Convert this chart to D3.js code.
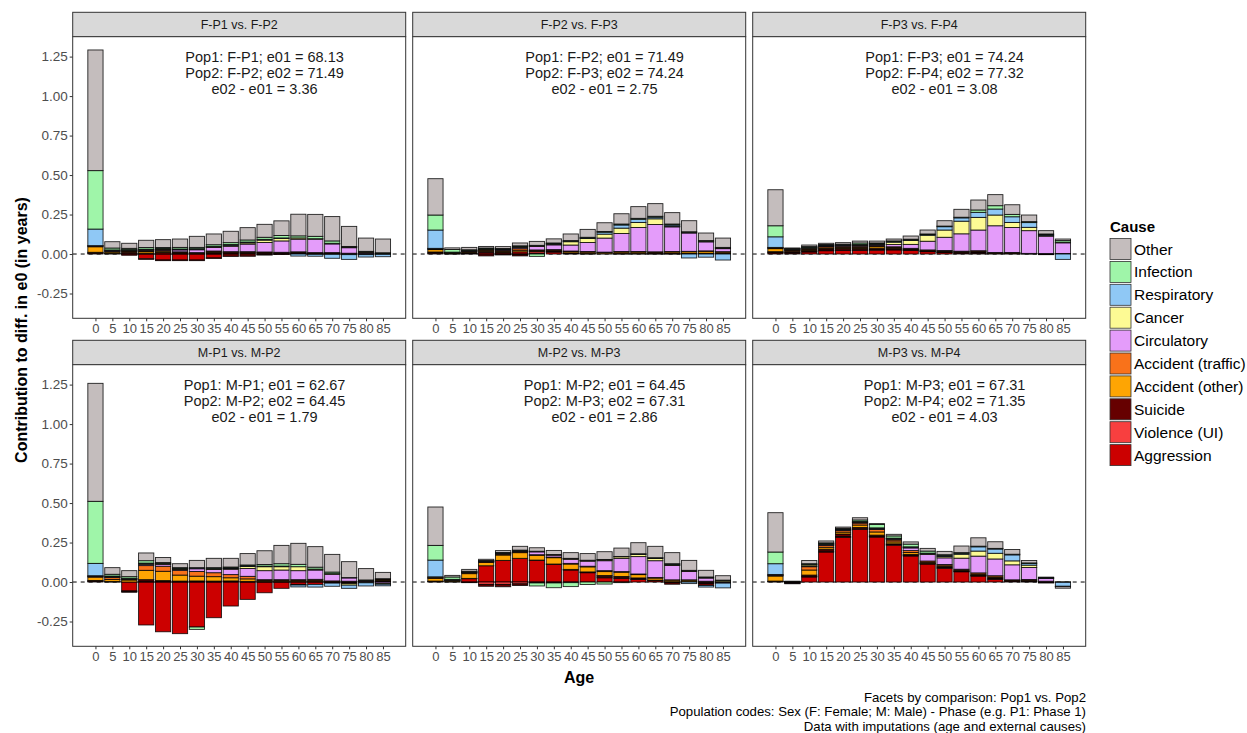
<!DOCTYPE html>
<html>
<head>
<meta charset="utf-8">
<script src="https://cdn.jsdelivr.net/npm/d3@7"></script>
<style>
  body { margin: 0; background: #fff; }
  svg { font-family: "Liberation Sans", Arial, sans-serif; }
</style>
</head>
<body>
<svg id="chart" width="1247" height="733"></svg>
<script>
// age groups on the x axis
const ages = [0, 5, 10, 15, 20, 25, 30, 35, 40, 45, 50, 55, 60, 65, 70, 75, 80, 85];
const causes = ["Other", "Infection", "Respiratory", "Cancer", "Circulatory",
  "Accident (traffic)", "Accident (other)", "Suicide", "Violence (UI)", "Aggression"];
const causeColors = ["#c4bdbd", "#9ff5a9", "#8fc8f5", "#fdfa94", "#e49cfa",
  "#f9721a", "#fea503", "#660000", "#f83f3f", "#cc0000"];
const comparisons = ["F-P1 vs. F-P2", "F-P2 vs. F-P3", "F-P3 vs. F-P4",
  "M-P1 vs. M-P2", "M-P2 vs. M-P3", "M-P3 vs. M-P4"];
const panelNotes = [
  ["Pop1: F-P1; e01 = 68.13", "Pop2: F-P2; e02 = 71.49", "e02 - e01 = 3.36"],
  ["Pop1: F-P2; e01 = 71.49", "Pop2: F-P3; e02 = 74.24", "e02 - e01 = 2.75"],
  ["Pop1: F-P3; e01 = 74.24", "Pop2: F-P4; e02 = 77.32", "e02 - e01 = 3.08"],
  ["Pop1: M-P1; e01 = 62.67", "Pop2: M-P2; e02 = 64.45", "e02 - e01 = 1.79"],
  ["Pop1: M-P2; e01 = 64.45", "Pop2: M-P3; e02 = 67.31", "e02 - e01 = 2.86"],
  ["Pop1: M-P3; e01 = 67.31", "Pop2: M-P4; e02 = 71.35", "e02 - e01 = 4.03"]
];
const captionLines = ["Facets by comparison: Pop1 vs. Pop2",
  "Population codes: Sex (F: Female; M: Male) - Phase (e.g. P1: Phase 1)",
  "Data with imputations (age and external causes)"];
const yTicks = [-0.25, 0, 0.25, 0.5, 0.75, 1, 1.25];

// contribution to difference in e0, one row per age group,
// columns in the order of `causes`
const fP1P2 = [
  [0.764, 0.37, 0.105, 0.001, 0.002, 0.004, 0.035, 0.004, 0.002, 0.005],
  [0.040, 0.012, 0.003, 0.003, 0.003, 0.004, 0.008, 0.002, 0.001, 0.002],
  [0.032, 0.008, 0.003, 0.002, 0.003, 0.004, 0.004, 0.010, 0.002, -0.008],
  [0.046, 0.010, 0.003, 0.003, 0.005, 0.005, 0.010, 0.005, -0.004, -0.030],
  [0.050, 0.006, 0.003, 0.003, 0.005, 0.006, 0.008, 0.010, -0.004, -0.038],
  [0.053, 0.010, 0.003, 0.003, 0.012, 0.004, 0.004, 0.006, -0.004, -0.038],
  [0.070, 0.008, 0.003, 0.004, 0.018, 0.003, 0.003, 0.003, -0.004, -0.038],
  [0.068, 0.010, 0.004, 0.004, 0.022, 0.006, 0.006, 0.007, -0.003, -0.025],
  [0.072, 0.012, 0.005, 0.006, 0.034, 0.004, 0.004, 0.007, -0.002, -0.013],
  [0.078, 0.013, 0.005, 0.008, 0.048, 0.005, 0.004, 0.006, -0.002, -0.012],
  [0.082, 0.013, 0.005, 0.015, 0.060, 0.003, 0.004, 0.006, -0.001, -0.005],
  [0.093, 0.015, 0.004, 0.015, 0.072, 0.002, 0.003, 0.005, 0.001, -0.003],
  [0.137, 0.013, -0.013, 0.008, 0.080, 0.002, 0.003, 0.006, 0.002, 0.001],
  [0.139, 0.015, -0.012, 0.003, 0.085, 0.002, 0.002, 0.004, 0.001, -0.002],
  [0.154, 0.015, -0.025, 0.004, 0.055, 0.002, 0.002, 0.004, 0.001, -0.002],
  [0.127, 0.004, -0.030, 0.004, 0.035, 0.001, 0.002, 0.002, -0.001, -0.003],
  [0.084, 0.003, -0.015, 0.004, 0.006, 0.002, 0.002, -0.002, 0, -0.002],
  [0.087, 0.002, -0.015, 0.002, 0.002, 0.001, 0.001, -0.001, 0, -0.001]
];
const fP2P3 = [
  [0.230, 0.095, 0.116, 0.002, 0.002, 0.004, 0.015, 0.006, 0.002, 0.005],
  [0.010, 0.017, 0.002, 0.001, 0.001, 0.002, 0.002, 0.002, 0.001, 0.001],
  [0.015, 0.004, 0.002, 0.002, 0.002, 0.004, 0.006, 0.004, 0.001, 0.002],
  [0.010, 0.003, 0.003, 0.002, 0.002, 0.006, 0.006, -0.012, 0.006, 0.010],
  [0.012, 0.003, 0.003, 0.002, 0.003, 0.006, 0.006, -0.006, 0.004, 0.008],
  [0.018, 0.004, 0.003, 0.003, 0.008, 0.010, 0.010, -0.008, -0.004, 0.014],
  [0.025, -0.015, 0.003, 0.004, 0.022, 0.004, 0.004, 0.003, 0.010, 0.005],
  [0.026, 0.003, 0.004, 0.005, 0.030, 0.004, 0.004, 0.004, 0.004, 0.012],
  [0.042, 0.004, 0.003, 0.021, 0.038, 0.004, 0.008, 0.003, 0.002, 0.002],
  [0.050, 0.004, 0.004, 0.025, 0.057, 0.004, 0.008, 0.002, 0.001, 0.001],
  [0.055, 0.005, 0.012, 0.025, 0.089, 0.003, 0.007, 0.002, 0, 0],
  [0.065, 0.006, 0.020, 0.034, 0.114, 0.003, 0.008, 0.003, 0.001, 0.001],
  [0.074, 0.006, 0.020, 0.032, 0.152, 0.003, 0.008, 0.004, 0.001, 0],
  [0.080, 0.006, 0.010, 0.036, 0.173, 0.002, 0.006, 0.004, 0.001, 0.001],
  [0.072, 0.006, 0.008, 0.004, 0.156, 0.002, 0.008, 0.004, 0.001, 0.001],
  [0.070, 0.004, -0.025, 0.004, 0.116, 0.002, 0.010, 0.003, 0.001, 0.001],
  [0.048, 0.004, -0.020, 0.004, 0.057, 0.003, 0.012, 0.003, 0.001, 0.001],
  [0.059, 0.004, -0.038, 0.004, 0.019, 0.003, 0.008, 0.002, 0.001, 0.001]
];
const fP3P4 = [
  [0.228, 0.070, 0.067, 0.002, 0.002, 0.004, 0.019, 0.006, 0.002, 0.007],
  [0.002, 0.002, 0.003, 0.002, 0.003, 0.004, 0.004, 0.008, 0.004, 0.006],
  [0.010, 0.004, 0.003, 0.003, 0.004, 0.006, 0.005, 0.006, 0.003, 0.013],
  [0.008, 0.003, 0.003, 0.003, 0.004, 0.008, 0.006, 0.008, 0.004, 0.021],
  [0.010, 0.003, 0.003, 0.003, 0.004, 0.008, 0.006, 0.009, 0.004, 0.022],
  [0.012, 0.010, 0.003, 0.003, 0.005, 0.008, 0.006, 0.008, 0.004, 0.023],
  [0.012, 0.004, 0.003, 0.004, 0.006, 0.006, 0.010, 0.008, 0.005, 0.024],
  [0.012, 0.004, 0.004, 0.015, 0.014, 0.004, 0.006, 0.005, 0.005, 0.026],
  [0.020, 0.004, 0.004, 0.025, 0.025, 0.004, 0.004, 0.003, 0.003, 0.022],
  [0.025, 0.004, 0.004, 0.038, 0.055, 0.003, 0.004, 0.002, 0.002, 0.015],
  [0.034, 0.004, 0.021, 0.046, 0.084, 0.003, 0.004, 0.004, 0.002, 0.009],
  [0.050, 0.004, 0.021, 0.080, 0.110, 0.002, 0.004, 0.004, 0.002, 0.006],
  [0.063, 0.015, 0.032, 0.080, 0.131, 0.004, 0.004, 0.006, 0.002, 0.005],
  [0.070, 0.021, 0.038, 0.068, 0.169, 0.002, 0.003, 0.002, 0.001, 0.002],
  [0.061, 0.015, 0.036, 0.032, 0.158, 0.002, 0.003, 0.002, 0.001, 0.002],
  [0.042, 0.006, 0.030, 0.021, 0.144, 0.001, 0.001, 0.001, 0, 0.001],
  [0.021, 0.004, 0.006, 0.004, 0.110, 0.001, 0.001, 0.001, -0.002, -0.002],
  [0.010, 0.010, -0.034, 0.004, 0.068, 0.001, 0.001, 0.001, 0, 0]
];
const mP1P2 = [
  [0.747, 0.393, 0.078, 0.002, 0.003, 0.004, 0.021, 0.004, 0.002, 0.004],
  [0.042, 0.011, 0.004, 0.003, 0.003, 0.012, 0.012, 0.002, 0.001, 0.001],
  [0.038, 0.010, 0.003, 0.002, 0.002, 0.004, 0.013, -0.006, -0.002, -0.057],
  [0.049, 0.015, 0.004, 0.004, 0.008, 0.030, 0.059, 0.010, 0.005, -0.272],
  [0.032, 0.005, 0.003, 0.003, 0.012, 0.032, 0.059, 0.006, 0.003, -0.315],
  [0.025, 0.005, 0.003, 0.003, 0.006, 0.030, 0.038, 0.004, 0.002, -0.327],
  [0.046, -0.015, 0.004, 0.003, 0.017, 0.030, 0.030, 0.005, 0.002, -0.285],
  [0.059, 0.004, 0.004, 0.003, 0.021, 0.025, 0.028, 0.004, 0.002, -0.226],
  [0.055, 0.006, 0.004, 0.004, 0.034, 0.020, 0.020, 0.004, 0.003, -0.152],
  [0.072, 0.006, 0.004, 0.012, 0.050, 0.016, 0.016, 0.003, 0.001, -0.110],
  [0.087, 0.010, 0.004, 0.025, 0.057, 0.006, 0.006, 0.002, 0.001, -0.068],
  [0.116, 0.015, 0.004, 0.021, 0.061, 0.006, 0.006, 0.002, 0.001, -0.040],
  [0.133, 0.015, -0.012, 0.025, 0.057, 0.006, 0.006, 0.003, -0.004, -0.015],
  [0.130, 0.012, -0.017, 0.006, 0.059, 0.006, 0.006, 0.003, 0.002, -0.015],
  [0.112, 0.010, -0.020, 0.004, 0.042, 0.003, 0.003, 0.001, -0.003, -0.004],
  [0.101, 0.002, -0.020, -0.010, 0.021, 0.002, 0.002, 0.001, -0.004, -0.006],
  [0.072, 0.002, -0.020, -0.004, 0.006, 0.002, 0.002, 0.001, 0, -0.001],
  [0.040, 0.002, -0.010, -0.006, -0.008, 0.004, 0.004, 0.006, 0.003, 0.002]
];
const mP2P3 = [
  [0.243, 0.093, 0.106, 0.003, 0.003, 0.004, 0.017, 0.003, 0.001, 0.002],
  [0.010, 0.015, 0.003, 0.002, 0.002, 0.003, 0.006, 0.001, 0, 0],
  [0.012, 0.003, 0.002, 0.002, 0.002, 0.006, 0.030, -0.004, 0.002, 0.021],
  [0.008, 0.002, 0.002, 0.002, 0.002, 0.004, 0.021, -0.012, -0.015, 0.103],
  [0.012, 0.002, 0.002, 0.002, 0.004, 0.006, 0.034, -0.015, -0.015, 0.137],
  [0.024, 0.002, 0.002, 0.002, 0.004, 0.006, 0.036, -0.010, -0.012, 0.150],
  [0.022, -0.019, 0.002, 0.002, 0.018, 0.004, 0.030, -0.006, 0.002, 0.137],
  [0.026, -0.030, 0.002, 0.002, 0.012, 0.004, 0.040, -0.006, 0.002, 0.112],
  [0.036, -0.025, 0.002, 0.004, 0.026, 0.004, 0.034, -0.004, 0.004, 0.076],
  [0.042, -0.016, 0.002, 0.004, 0.032, 0.004, 0.032, 0.002, 0.003, 0.059],
  [0.049, -0.013, 0.002, 0.006, 0.063, 0.006, 0.025, 0.008, 0.006, 0.027],
  [0.053, -0.004, 0.002, 0.010, 0.084, 0.004, 0.027, 0.008, 0.004, 0.023],
  [0.070, 0.002, 0.003, 0.013, 0.110, 0.004, 0.021, 0.006, 0.004, 0.016],
  [0.072, 0.002, 0.003, 0.014, 0.106, 0.004, 0.013, 0.002, 0.002, 0.008],
  [0.070, 0.003, 0.004, 0.004, 0.091, 0.002, 0.010, -0.010, -0.004, 0.002],
  [0.063, 0.003, -0.010, 0.004, 0.053, 0.002, 0.010, 0.002, 0, 0],
  [0.042, 0.003, -0.010, 0.004, 0.020, 0.002, 0.003, -0.012, -0.005, -0.005],
  [0.028, 0.002, -0.030, 0.008, -0.005, 0.001, 0.001, -0.002, 0, 0]
];
const mP3P4 = [
  [0.249, 0.074, 0.068, 0.003, 0.003, 0.004, 0.032, 0.003, 0.001, 0.002],
  [0.001, 0.001, 0.001, 0.001, -0.002, -0.003, 0.001, -0.002, -0.001, -0.003],
  [0.020, 0.004, 0.003, 0.008, 0.004, 0.021, 0.032, 0.008, 0.004, 0.032],
  [0.012, 0.004, 0.004, 0.004, 0.004, 0.012, 0.012, 0.012, 0.006, 0.190],
  [0.008, 0.004, 0.003, 0.003, 0.004, 0.010, 0.012, 0.016, 0.006, 0.282],
  [0.014, 0.010, 0.003, 0.003, 0.004, 0.012, 0.016, 0.008, 0.003, 0.334],
  [0.006, 0.021, 0.003, 0.003, 0.004, 0.016, 0.020, 0.008, 0.004, 0.285],
  [0.010, 0.014, 0.003, 0.003, 0.006, 0.012, 0.012, 0.005, 0.004, 0.233],
  [0.014, 0.017, 0.003, 0.004, 0.017, 0.012, 0.012, 0.006, 0.004, 0.165],
  [0.017, 0.013, 0.004, 0.004, 0.042, 0.008, 0.006, 0.003, 0.002, 0.114],
  [0.021, 0.006, 0.006, 0.008, 0.042, 0.008, 0.006, 0.006, 0.004, 0.087],
  [0.042, 0.004, 0.006, 0.025, 0.070, 0.006, 0.004, 0.004, 0.002, 0.065],
  [0.053, 0.004, 0.027, 0.032, 0.106, 0.008, 0.006, 0.004, 0.002, 0.038],
  [0.042, 0.004, 0.027, 0.036, 0.106, 0.008, 0.006, 0.006, 0.003, 0.017],
  [0.030, 0.004, 0.038, 0.025, 0.095, 0.003, 0.002, 0.002, 0.001, 0.006],
  [0.015, 0.004, 0.010, 0.015, 0.076, 0.004, 0.004, 0.004, 0.002, 0.002],
  [0.003, 0.002, 0.002, 0.002, 0.017, 0.003, 0.002, -0.002, -0.002, -0.002],
  [-0.010, -0.002, -0.025, 0.001, -0.002, 0, 0, 0, 0, 0]
];
const panelData = [fP1P2, fP2P3, fP3P4, mP1P2, mP2P3, mP3P4];

const svg = d3.select("#chart");
svg.append("rect").attr("width", 1247).attr("height", 733).attr("fill", "#fff");

const panelW = 333, stripH = 24.4, bodyH = 281.6;
const colX = [72.7, 412.7, 752.7];
const rowY = [12.3, 340.3];

const x = d3.scaleLinear().domain([-6.725, 91.725]).range([0, panelW]);
const y = d3.scaleLinear().domain([-0.407, 1.376]).range([bodyH, 0]);
const barW = x(4.5) - x(0);

// ggplot-style stacking: aggression closest to zero, "Other" outermost
function stackAge(row) {
  let pos = 0, neg = 0;
  const segs = [];
  for (let c = causes.length - 1; c >= 0; c--) {
    const v = row[c];
    if (v === 0) continue;
    if (v > 0) { segs.push({ c: c, y0: pos, y1: pos + v }); pos += v; }
    else { segs.push({ c: c, y0: neg + v, y1: neg }); neg += v; }
  }
  return segs;
}

panelData.forEach(function (rows, p) {
  const col = p % 3, row = Math.floor(p / 3);
  const g = svg.append("g").attr("transform", "translate(" + colX[col] + "," + rowY[row] + ")");

  // strip
  g.append("rect").attr("width", panelW).attr("height", stripH)
    .attr("fill", "#d9d9d9").attr("stroke", "#333").attr("stroke-width", 1);
  g.append("text").attr("x", panelW / 2).attr("y", stripH / 2 + 4.5)
    .attr("text-anchor", "middle").attr("font-size", 12.5).attr("fill", "#1a1a1a")
    .text(comparisons[p]);

  const body = g.append("g").attr("transform", "translate(0," + stripH + ")");
  body.append("rect").attr("width", panelW).attr("height", bodyH).attr("fill", "#fff");

  body.append("line").attr("x1", 0).attr("x2", panelW)
    .attr("y1", y(0)).attr("y2", y(0))
    .attr("stroke", "#000").attr("stroke-width", 1).attr("stroke-dasharray", "4,4");

  const segs = [];
  rows.forEach(function (r, i) {
    stackAge(r).forEach(function (s) { s.age = ages[i]; segs.push(s); });
  });
  body.selectAll(".seg").data(segs).enter().append("rect")
    .attr("class", "seg")
    .attr("x", d => x(d.age) - barW / 2)
    .attr("width", barW)
    .attr("y", d => y(d.y1))
    .attr("height", d => Math.max(0, y(d.y0) - y(d.y1)))
    .attr("fill", d => causeColors[d.c])
    .attr("stroke", "#000").attr("stroke-opacity", 0.85).attr("stroke-width", 0.9);

  // annotation
  panelNotes[p].forEach(function (t, k) {
    body.append("text").attr("x", x(50)).attr("y", 25.5 + k * 16)
      .attr("text-anchor", "middle").attr("font-size", 14.5).attr("fill", "#1a1a1a")
      .text(t);
  });

  body.append("rect").attr("width", panelW).attr("height", bodyH)
    .attr("fill", "none").attr("stroke", "#333").attr("stroke-width", 1);

  // x axis
  const xa = body.append("g").attr("transform", "translate(0," + bodyH + ")")
    .call(d3.axisBottom(x).tickValues(ages).tickSize(3).tickPadding(2));
  xa.select(".domain").remove();
  xa.selectAll("line").attr("stroke", "#333");
  xa.selectAll("text").attr("font-size", 13).attr("fill", "#4d4d4d")
    .attr("font-family", "Liberation Sans, Arial, sans-serif");

  if (col === 0) {
    const ya = body.append("g")
      .call(d3.axisLeft(y).tickValues(yTicks).tickFormat(d => d.toFixed(2)).tickSize(3).tickPadding(2));
    ya.select(".domain").remove();
    ya.selectAll("line").attr("stroke", "#333");
    ya.selectAll("text").attr("font-size", 13.5).attr("fill", "#4d4d4d")
      .attr("font-family", "Liberation Sans, Arial, sans-serif");
  }
});

// axis titles
svg.append("text").attr("transform", "translate(27,330) rotate(-90)")
  .attr("text-anchor", "middle").attr("font-size", 16).attr("font-weight", "bold")
  .attr("fill", "#000").text("Contribution to diff. in e0 (in years)");
svg.append("text").attr("x", 579).attr("y", 683)
  .attr("text-anchor", "middle").attr("font-size", 16).attr("font-weight", "bold")
  .attr("fill", "#000").text("Age");

// caption
captionLines.forEach(function (t, k) {
  svg.append("text").attr("x", 1086).attr("y", 701.5 + k * 14.8)
    .attr("text-anchor", "end").attr("font-size", 13.2).attr("fill", "#000").text(t);
});

// legend
const leg = svg.append("g").attr("transform", "translate(1110,0)");
leg.append("text").attr("x", 0).attr("y", 231.5).attr("font-size", 15)
  .attr("font-weight", "bold").attr("fill", "#000").text("Cause");
const items = leg.selectAll(".key").data(causes).enter().append("g")
  .attr("class", "key")
  .attr("transform", (d, i) => "translate(0," + (249 + i * 22.9) + ")");
items.append("rect").attr("x", 0).attr("y", -10.5).attr("width", 21).attr("height", 21)
  .attr("fill", (d, i) => causeColors[i]).attr("stroke", "#333").attr("stroke-width", 0.8);
items.append("text").attr("x", 24).attr("y", 5.5).attr("font-size", 15.5)
  .attr("fill", "#000").text(d => d);
</script>
</body>
</html>
